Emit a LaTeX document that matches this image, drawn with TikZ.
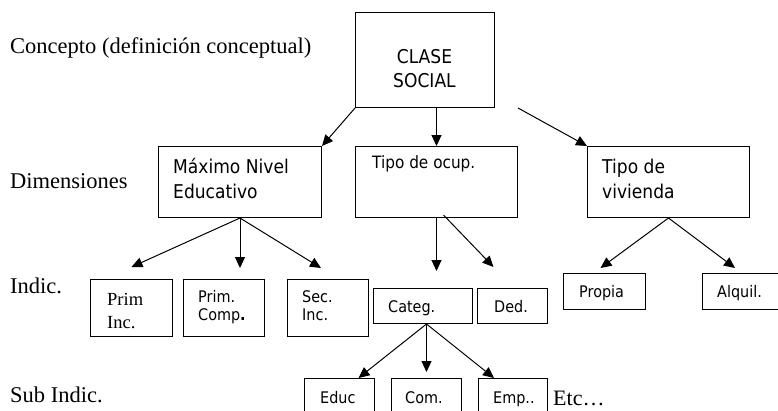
\documentclass[tikz,border=0pt]{standalone}
\usepackage{fontspec}
\setmainfont{Liberation Serif}
\newfontfamily\boxfont{DejaVu Sans}[FakeStretch=0.9]
\usetikzlibrary{arrows.meta}

\tikzset{
  box/.style={draw, line width=1pt, anchor=north west, inner sep=0pt},
  lbl/.style={anchor=base west, inner sep=0pt, font=\fontsize{22.5}{27}\selectfont},
  big/.style={anchor=base west, inner sep=0pt, align=left, font=\boxfont\fontsize{19}{25}\selectfont},
  mid/.style={anchor=base west, inner sep=0pt, font=\boxfont\fontsize{17}{19}\selectfont},
  small/.style={anchor=base west, inner sep=0pt, align=left, font=\boxfont\fontsize{16}{18}\selectfont},
  arr/.style={-{Triangle[length=11pt,width=10pt]}, line width=1pt},
}

\begin{document}
\begin{tikzpicture}[x=1pt, y=-1pt]
  \useasboundingbox (0,0) rectangle (778,410);
  \clip (0,0) rectangle (778,410);

  % niveles
  \node[lbl] (concepto) at (10,53) {Concepto (definición conceptual)};
  \node[lbl] (dimen) at (10,188) {Dimensiones};
  \node[lbl] (indic) at (10,293) {Indic.};
  \node[lbl] (subind) at (10,402) {Sub Indic.};

  % concepto
  \node[box, minimum width=139pt, minimum height=95pt] (clase) at (355,12) {};
  \node[big, anchor=base, align=center, font=\boxfont\fontsize{19}{24}\selectfont] (claset) at (424.5,87) {CLASE\\SOCIAL};

  % dimensiones
  \node[box, minimum width=163pt, minimum height=71pt] (mne) at (158,146) {};
  \node[big] (mnet) at (173,198) {Máximo Nivel\\Educativo};
  \node[box, minimum width=162pt, minimum height=71pt] (ocup) at (355,146) {};
  \node[mid] (ocupt) at (372,168) {Tipo de ocup.};
  \node[box, minimum width=162pt, minimum height=71pt] (viv) at (587,146) {};
  \node[big] (vivt) at (602,198) {Tipo de\\vivienda};

  % indicadores
  \node[box, minimum width=82pt, minimum height=57pt] (primInc) at (90,279) {};
  \node[lbl, align=left, font=\fontsize{18.5}{23}\selectfont] (primInct) at (107,328) {Prim\\Inc.};
  \node[box, minimum width=81pt, minimum height=57pt] (primComp) at (183,279) {};
  \node[small] (primCompt) at (198,320) {Prim.\\Comp{\bfseries.}};
  \node[box, minimum width=81pt, minimum height=57pt] (secInc) at (287,279) {};
  \node[small] (secInct) at (302,320) {Sec.\\Inc.};
  \node[box, minimum width=99pt, minimum height=35pt] (categ) at (373,288) {};
  \node[small] (categt) at (388,312) {Categ.};
  \node[box, minimum width=70pt, minimum height=35pt] (ded) at (477,288) {};
  \node[small] (dedt) at (494,312) {Ded.};
  \node[box, minimum width=82pt, minimum height=36pt] (propia) at (563,273) {};
  \node[small] (propiat) at (579,297) {Propia};
  \node[box, minimum width=90pt, minimum height=36pt] (alquil) at (702,273) {};
  \node[small] (alquilt) at (717,297) {Alquil.};

  % sub indicadores
  \node[box, minimum width=70pt, minimum height=40pt] (educ) at (304,378) {};
  \node[small] (educt) at (320,403) {Educ};
  \node[box, minimum width=70pt, minimum height=40pt] (com) at (391,378) {};
  \node[small] (comt) at (405,403) {Com.};
  \node[box, minimum width=69pt, minimum height=40pt] (emp) at (478,378) {};
  \node[small] (empt) at (493,403) {Emp..};
  \node[lbl, font=\fontsize{22}{26}\selectfont] (etc) at (553,405) {Etc…};

  % flechas
  \draw[arr] (clase.south west) -- (mne.north east);
  \draw[arr] (clase.south -| ocup.north) -- (ocup.north);
  \draw[arr] (clase.south -| ocup.north east) -- (viv.north west);
  \draw[arr] (mne.south) -- ([yshift=12pt]primInc.north);
  \draw[arr] (mne.south) -- ++(0,50);
  \draw[arr] (mne.south) -- ([xshift=-7pt,yshift=11pt]secInc.north);
  \draw[arr] (ocup.south) -- ++(0,53);
  \draw[arr] ([xshift=7pt,yshift=3pt]ocup.south) -- ++(50,52);
  \draw[arr] (viv.south) -- ([xshift=-4pt,yshift=5pt]propia.north);
  \draw[arr] (viv.south) -- ([shift={(33pt,5pt)}]alquil.north west);
  \coordinate (fork) at (com.north |- categ.south);
  \draw[arr] (fork) -- ([xshift=19pt]educ.north);
  \draw[arr] (fork) -- ([yshift=6pt]com.north);
  \draw[arr] (fork) -- ([xshift=-19pt]emp.north);
\end{tikzpicture}
\end{document}
